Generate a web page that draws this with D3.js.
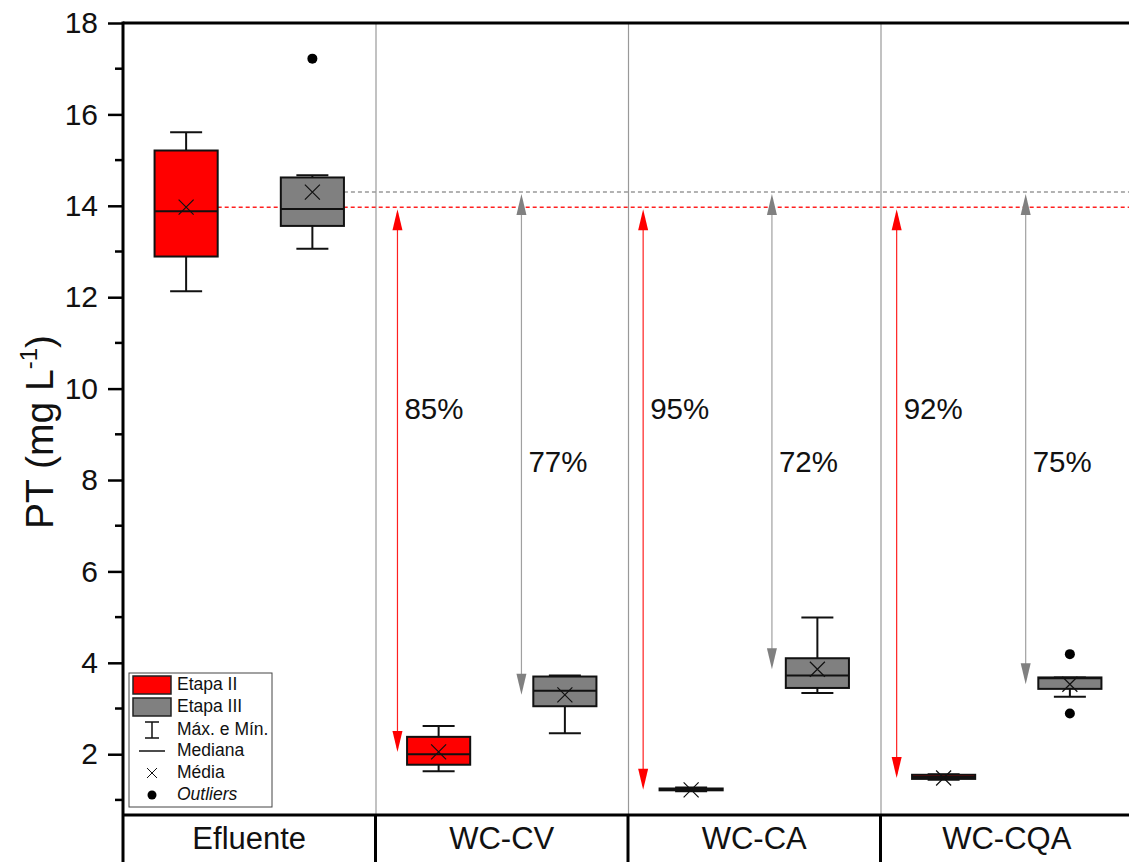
<!DOCTYPE html>
<html>
<head>
<meta charset="utf-8">
<script src="https://cdn.jsdelivr.net/npm/d3@7"></script>
<style>
  html, body { margin: 0; padding: 0; background: #fff; }
  svg { display: block; font-family: "Liberation Sans", Arial, sans-serif; }
</style>
</head>
<body>
<svg id="chart" width="1129" height="862"></svg>
<script>
// Total phosphorus (PT) per unit and stage
const categories = ["Efluente", "WC-CV", "WC-CA", "WC-CQA"];
const stages = ["Etapa II", "Etapa III"];

// Box statistics per category: min, q1, median, q3, max, mean, outliers
const etapaII = [
  { min: 12.13, q1: 12.89, median: 13.88, q3: 15.21, max: 15.61, mean: 13.97, outliers: [] },
  { min: 1.63, q1: 1.77, median: 2.00, q3: 2.38, max: 2.62, mean: 2.05, outliers: [] },
  { min: 1.19, q1: 1.21, median: 1.23, q3: 1.25, max: 1.27, mean: 1.22, outliers: [] },
  { min: 1.44, q1: 1.46, median: 1.50, q3: 1.55, max: 1.56, mean: 1.48, outliers: [] }
];
const etapaIII = [
  { min: 13.06, q1: 13.56, median: 13.93, q3: 14.62, max: 14.67, mean: 14.30, outliers: [17.22] },
  { min: 2.46, q1: 3.05, median: 3.39, q3: 3.70, max: 3.72, mean: 3.30, outliers: [] },
  { min: 3.34, q1: 3.45, median: 3.72, q3: 4.10, max: 4.99, mean: 3.86, outliers: [] },
  { min: 3.26, q1: 3.43, median: 3.66, q3: 3.68, max: 3.68, mean: 3.53, outliers: [4.19, 2.89] }
];

// Removal efficiency labels relative to the effluent mean
const removalII = ["85%", "95%", "92%"];
const removalIII = ["77%", "72%", "75%"];

const yTicks = [2, 4, 6, 8, 10, 12, 14, 16, 18];
const yMinorTicks = [1, 3, 5, 7, 9, 11, 13, 15, 17];

// Layout
const plot = { left: 123, right: 1133, top: 23, bottom: 815, height: 862 };
const colors = { "Etapa II": "#ff0000", "Etapa III": "#808080" };
const arrowColors = { "Etapa II": { line: "#ff2020", head: "#ff0000" },
                      "Etapa III": { line: "#a0a0a0", head: "#808080" } };
const arrowOffsetII = [0.087, 0.06, 0.064];   // fraction of group width
const arrowOffsetIII = [0.578, 0.57, 0.575];
const labelLevel = { "Etapa II": 9.5, "Etapa III": 8.35 };

const svg = d3.select("#chart");

const y = d3.scaleLinear().domain([0.67, 18]).range([plot.bottom, plot.top]);
const x = d3.scaleBand().domain(categories).range([plot.left, plot.right]).padding(0);
const xs = d3.scalePoint().domain(stages).range([0, x.bandwidth()]).padding(0.5);
const boxW = x.bandwidth() * 0.25;
const capW = 32;

// Group separators inside the plot
svg.append("g").selectAll("line")
  .data(categories.slice(1))
  .join("line")
  .attr("x1", d => x(d) + 0.5).attr("x2", d => x(d) + 0.5)
  .attr("y1", plot.top).attr("y2", plot.bottom)
  .attr("stroke", "#999").attr("stroke-width", 1.2);

// Reference levels (effluent means)
const refII = etapaII[0].mean, refIII = etapaIII[0].mean;
svg.append("line")
  .attr("x1", x(categories[0]) + xs("Etapa III") + boxW / 2).attr("x2", plot.right)
  .attr("y1", y(refIII)).attr("y2", y(refIII))
  .attr("stroke", "#999").attr("stroke-width", 1.5).attr("stroke-dasharray", "4,3");
svg.append("line")
  .attr("x1", x(categories[0]) + xs("Etapa II") + boxW / 2).attr("x2", plot.right)
  .attr("y1", y(refII)).attr("y2", y(refII))
  .attr("stroke", "#ff2020").attr("stroke-width", 1.5).attr("stroke-dasharray", "4,3");

// Double-headed arrows from effluent mean to unit mean
function arrow(g, ax, yTop, yBot, col) {
  const hl = 21, hw = 5;
  g.append("line").attr("x1", ax).attr("x2", ax).attr("y1", yTop + 4).attr("y2", yBot - 4)
    .attr("stroke", col.line).attr("stroke-width", 1.2);
  g.append("path").attr("d", `M${ax},${yTop} L${ax - hw},${yTop + hl} L${ax + hw},${yTop + hl} Z`)
    .attr("fill", col.head);
  g.append("path").attr("d", `M${ax},${yBot} L${ax - hw},${yBot - hl} L${ax + hw},${yBot - hl} Z`)
    .attr("fill", col.head);
}
const arrows = svg.append("g");
categories.slice(1).forEach((c, i) => {
  const axII = x(c) + arrowOffsetII[i] * x.bandwidth();
  const axIII = x(c) + arrowOffsetIII[i] * x.bandwidth();
  arrow(arrows, axII, y(refII) + 2, y(etapaII[i + 1].mean), arrowColors["Etapa II"]);
  arrow(arrows, axIII, y(refIII) + 2, y(etapaIII[i + 1].mean), arrowColors["Etapa III"]);
  arrows.append("text").attr("x", axII + 7).attr("y", y(labelLevel["Etapa II"]))
    .attr("dominant-baseline", "middle").attr("font-size", 29.5).attr("fill", "#111").text(removalII[i]);
  arrows.append("text").attr("x", axIII + 7).attr("y", y(labelLevel["Etapa III"]))
    .attr("dominant-baseline", "middle").attr("font-size", 29.5).attr("fill", "#111").text(removalIII[i]);
});

// Box plots
function drawBoxes(series, stage) {
  const g = svg.append("g");
  series.forEach((s, i) => {
    const cx = x(categories[i]) + xs(stage);
    const b = g.append("g");
    // whiskers
    b.append("line").attr("x1", cx).attr("x2", cx).attr("y1", y(s.max)).attr("y2", y(s.q3))
      .attr("stroke", "#111").attr("stroke-width", 2);
    b.append("line").attr("x1", cx).attr("x2", cx).attr("y1", y(s.q1)).attr("y2", y(s.min))
      .attr("stroke", "#111").attr("stroke-width", 2);
    [s.max, s.min].forEach(v => b.append("line")
      .attr("x1", cx - capW / 2).attr("x2", cx + capW / 2).attr("y1", y(v)).attr("y2", y(v))
      .attr("stroke", "#111").attr("stroke-width", 2));
    // box
    b.append("rect").attr("x", cx - boxW / 2).attr("width", boxW)
      .attr("y", y(s.q3)).attr("height", Math.max(0.5, y(s.q1) - y(s.q3)))
      .attr("fill", colors[stage]).attr("stroke", "#111").attr("stroke-width", 2);
    // median
    b.append("line").attr("x1", cx - boxW / 2).attr("x2", cx + boxW / 2)
      .attr("y1", y(s.median)).attr("y2", y(s.median)).attr("stroke", "#111").attr("stroke-width", 2);
    // mean
    const m = 7.5, my = y(s.mean);
    b.append("path").attr("d", `M${cx - m},${my - m}L${cx + m},${my + m}M${cx - m},${my + m}L${cx + m},${my - m}`)
      .attr("stroke", "#111").attr("stroke-width", 1.2);
    // outliers
    s.outliers.forEach(o => b.append("circle").attr("cx", cx).attr("cy", y(o)).attr("r", 5).attr("fill", "#000"));
  });
}
drawBoxes(etapaII, "Etapa II");
drawBoxes(etapaIII, "Etapa III");

// Y axis
const yAxis = d3.axisLeft(y).tickValues(yTicks).tickSize(15).tickPadding(10).tickFormat(d3.format("d"));
const ya = svg.append("g").attr("transform", `translate(${plot.left},0)`).call(yAxis);
ya.select(".domain").remove();
ya.selectAll(".tick line").attr("stroke", "#000").attr("stroke-width", 2.5);
ya.selectAll(".tick text").attr("font-size", 30).attr("fill", "#111")
  .attr("font-family", "'Liberation Sans', Arial, sans-serif");
svg.append("g").selectAll("line").data(yMinorTicks).join("line")
  .attr("x1", plot.left - 8).attr("x2", plot.left).attr("y1", d => y(d)).attr("y2", d => y(d))
  .attr("stroke", "#000").attr("stroke-width", 2.5);
svg.append("line").attr("x1", plot.left).attr("x2", plot.left)
  .attr("y1", plot.top - 1.5).attr("y2", plot.height).attr("stroke", "#000").attr("stroke-width", 3);

// Top frame and category axis
svg.append("line").attr("x1", plot.left).attr("x2", plot.right).attr("y1", plot.top).attr("y2", plot.top)
  .attr("stroke", "#000").attr("stroke-width", 3);
svg.append("line").attr("x1", plot.left).attr("x2", plot.right).attr("y1", plot.bottom).attr("y2", plot.bottom)
  .attr("stroke", "#000").attr("stroke-width", 3);
svg.append("g").selectAll("line").data(categories.slice(1)).join("line")
  .attr("x1", d => x(d)).attr("x2", d => x(d)).attr("y1", plot.bottom).attr("y2", plot.height)
  .attr("stroke", "#000").attr("stroke-width", 3);
svg.append("g").selectAll("text").data(categories).join("text")
  .attr("x", d => x(d) + x.bandwidth() / 2).attr("y", 841)
  .attr("text-anchor", "middle").attr("dominant-baseline", "middle")
  .attr("font-size", 31).attr("fill", "#111").text(d => d);

// Y axis title
const yt = svg.append("text").attr("transform", "translate(53,432) rotate(-90)")
  .attr("text-anchor", "middle").attr("font-size", 39).attr("fill", "#111");
yt.append("tspan").text("PT (mg L");
yt.append("tspan").attr("font-size", 24).attr("dy", -16).text("-1");
yt.append("tspan").attr("dy", 16).text(")");

// Legend
const lg = svg.append("g").attr("transform", "translate(129,673)");
lg.append("rect").attr("width", 143).attr("height", 134).attr("fill", "#fff")
  .attr("stroke", "#444").attr("stroke-width", 1);
const rowY = [12, 34, 57, 78, 100, 122];
stages.forEach((s, i) => {
  lg.append("rect").attr("x", 4).attr("y", rowY[i] - 9).attr("width", 38).attr("height", 18)
    .attr("fill", colors[s]).attr("stroke", "#222").attr("stroke-width", 1.5);
});
lg.append("path").attr("d", `M16,${rowY[2] - 8}H30M23,${rowY[2] - 8}V${rowY[2] + 8}M16,${rowY[2] + 8}H30`)
  .attr("stroke", "#111").attr("stroke-width", 1.5).attr("fill", "none");
lg.append("line").attr("x1", 10).attr("x2", 36).attr("y1", rowY[3]).attr("y2", rowY[3])
  .attr("stroke", "#111").attr("stroke-width", 1.5);
lg.append("path").attr("d", `M18,${rowY[4] - 5}L28,${rowY[4] + 5}M18,${rowY[4] + 5}L28,${rowY[4] - 5}`)
  .attr("stroke", "#111").attr("stroke-width", 1);
lg.append("circle").attr("cx", 23).attr("cy", rowY[5]).attr("r", 4.5).attr("fill", "#000");
const legendLabels = ["Etapa II", "Etapa III", "Máx. e Mín.", "Mediana", "Média", "Outliers"];
legendLabels.forEach((t, i) => {
  lg.append("text").attr("x", 48).attr("y", rowY[i]).attr("dominant-baseline", "middle")
    .attr("font-size", 17.5).attr("fill", "#111")
    .attr("font-style", i === 5 ? "italic" : "normal").text(t);
});
</script>
</body>
</html>
